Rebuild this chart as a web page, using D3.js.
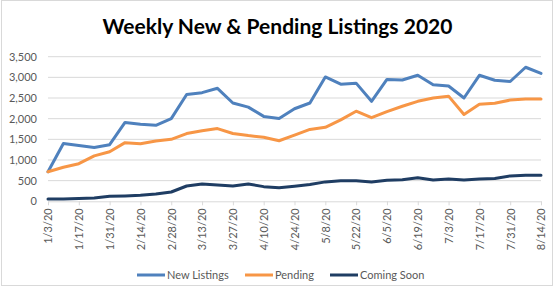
<!DOCTYPE html>
<html>
<head>
<meta charset="utf-8">
<script src="https://cdn.jsdelivr.net/npm/d3@7"></script>
<style>
  body { margin: 0; background: #fff; }
  text { font-family: Lato, "Open Sans", sans-serif; }
</style>
</head>
<body>
<div id="chart-area"></div>
<script>
// weekly dates, 1/3/20 .. 8/14/20
const weeks = ["1/3/20","1/10/20","1/17/20","1/24/20","1/31/20","2/7/20","2/14/20","2/21/20",
  "2/28/20","3/6/20","3/13/20","3/20/20","3/27/20","4/3/20","4/10/20","4/17/20","4/24/20",
  "5/1/20","5/8/20","5/15/20","5/22/20","5/29/20","6/5/20","6/12/20","6/19/20","6/26/20",
  "7/3/20","7/10/20","7/17/20","7/24/20","7/31/20","8/7/20","8/14/20"];

const newListings = [715,1400,1350,1300,1370,1910,1865,1840,2000,2585,2630,2735,2380,2280,2055,2005,
  2240,2380,3010,2835,2860,2420,2950,2935,3050,2820,2790,2500,3050,2930,2900,3245,3095];
const pending = [715,825,910,1100,1200,1420,1395,1460,1500,1640,1710,1760,1640,1590,1550,1465,
  1600,1740,1790,1970,2180,2025,2170,2300,2420,2500,2545,2100,2350,2375,2450,2475,2475];
const comingSoon = [55,55,70,80,120,130,145,175,225,370,420,395,370,420,355,330,
  365,405,470,495,495,465,510,520,570,515,540,515,540,550,615,630,630];

const yTicks = [0,500,1000,1500,2000,2500,3000,3500];
const seriesNames = ["New Listings","Pending","Coming Soon"];
const seriesColors = ["#4f81bd","#f79646","#1f3d63"];
const series = [newListings, pending, comingSoon];

const W = 555, H = 289;
const margin = { left:48, right:14, top:56.7, bottom:87.7 };
const width = W - margin.left - margin.right, height = H - margin.top - margin.bottom;

const svg = d3.select("#chart-area")
  .append("svg")
    .attr("width", W)
    .attr("height", H);

// chart border
svg.append("rect")
  .attr("x", 1.5).attr("y", 0.5)
  .attr("width", W - 4).attr("height", H - 4)
  .attr("fill", "none")
  .attr("stroke", "#d9d9d9");

// Title
svg.append("text")
  .attr("x", W/2)
  .attr("y", 34)
  .attr("text-anchor", "middle")
  .attr("font-size", "21px")
  .attr("font-weight", "bold")
  .attr("fill", "#000")
  .text("Weekly New & Pending Listings 2020");

const g = svg.append("g")
  .attr("transform", "translate(" + margin.left + "," + margin.top + ")");

const x = d3.scalePoint()
  .domain(weeks)
  .range([0, width]);

const y = d3.scaleLinear()
  .domain([0, 3500])
  .range([height, 0]);

// gridlines
g.selectAll(".grid")
  .data(yTicks.slice(1))
  .enter().append("line")
    .attr("class", "grid")
    .attr("x1", 0).attr("x2", width)
    .attr("y1", d => y(d)).attr("y2", d => y(d))
    .attr("stroke", "#d9d9d9")
    .attr("stroke-width", 1);

// y axis labels
const yaxis = d3.axisLeft(y)
  .tickValues(yTicks)
  .tickSize(0)
  .tickPadding(11)
  .tickFormat(d3.format(","));
g.append("g")
  .attr("class", "y axis")
  .call(yaxis)
  .call(s => s.select(".domain").remove())
  .selectAll("text")
    .attr("font-family", "Lato, sans-serif")
    .attr("font-size", "11px")
    .attr("fill", "#595959");

// x axis
const xaxis = d3.axisBottom(x)
  .tickValues(weeks.filter((d, i) => i % 2 === 0))
  .tickSize(4)
  .tickSizeOuter(0)
  .tickPadding(4);
const xg = g.append("g")
  .attr("class", "x axis")
  .attr("transform", "translate(0," + height + ")")
  .call(xaxis);
xg.selectAll("path, line").attr("stroke", "#d9d9d9");
xg.selectAll("text")
  .attr("font-family", "Lato, sans-serif")
  .attr("font-size", "11px")
  .attr("fill", "#595959")
  .attr("text-anchor", "end")
  .attr("transform", "rotate(-90)")
  .attr("x", -7)
  .attr("y", 0)
  .attr("dy", "0.35em");

// lines
const line = d3.line()
  .x((d, i) => x(weeks[i]))
  .y(d => y(d));

g.selectAll(".series")
  .data(series)
  .enter().append("path")
    .attr("class", "series")
    .attr("d", d => line(d))
    .attr("fill", "none")
    .attr("stroke", (d, i) => seriesColors[i])
    .attr("stroke-width", 3)
    .attr("stroke-linejoin", "round")
    .attr("stroke-linecap", "round");

// Legend
const legendX = [137, 245, 330];
const legend = svg.selectAll(".legend")
  .data(seriesNames)
  .enter().append("g")
    .attr("class", "legend")
    .attr("transform", (d, i) => "translate(" + legendX[i] + ",275)");
legend.append("line")
  .attr("x1", 0).attr("x2", 28)
  .attr("stroke", (d, i) => seriesColors[i])
  .attr("stroke-width", 3);
legend.append("text")
  .attr("x", 30)
  .attr("dy", "0.35em")
  .attr("font-size", "11px")
  .attr("fill", "#595959")
  .text(d => d);
</script>
</body>
</html>
